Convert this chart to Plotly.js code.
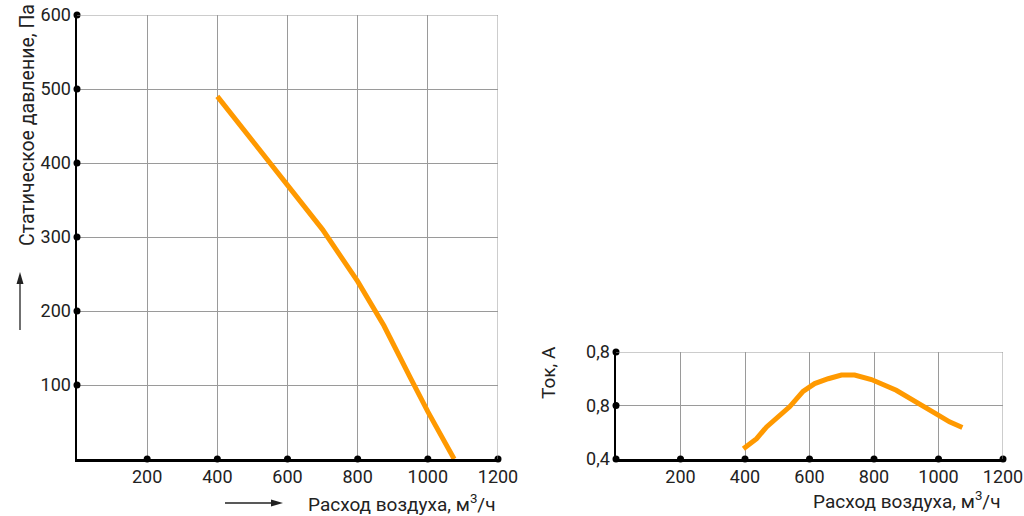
<!DOCTYPE html>
<html><head><meta charset="utf-8">
<script src="https://cdn.plot.ly/plotly-3.0.1.min.js"></script>
<style>html,body{margin:0;padding:0;background:#fff}#c{width:1024px;height:516px}</style>
</head><body><div id="c"></div>
<script>
// Pressure curve
const flowP = [400, 500, 600, 700, 800, 875, 950, 1000, 1075];
const pressure = [490, 430, 368, 310, 240, 180, 110, 64, 0];
// Current curve
const flowI = [395, 436, 467, 539, 580, 616, 658, 699, 740, 792, 869, 931, 998, 1034, 1074];
const current = [0.438, 0.476, 0.52, 0.596, 0.653, 0.682, 0.70, 0.714, 0.714, 0.697, 0.657, 0.615, 0.565, 0.539, 0.518];
// Ticks
const xTicks = [200, 400, 600, 800, 1000, 1200];
const pTicks = [100, 200, 300, 400, 500, 600];
const iTicks = [0.4, 0.6, 0.8];
const iTickText = ["0,4", "0,8", "0,8"];

const W = 1024, H = 516;
const px = v => v / W, py = v => 1 - v / H;
const FONT = "Roboto, 'DejaVu Sans', sans-serif";
const orange = "#FF9900";
const txt = '#222';

const traces = [
  {x: flowP, y: pressure, xaxis: 'x', yaxis: 'y', mode: 'lines', line: {color: orange, width: 5}, hoverinfo: 'skip'},
  {x: xTicks, y: xTicks.map(() => 0), xaxis: 'x', yaxis: 'y', mode: 'markers', marker: {color: '#000', size: 7}, cliponaxis: false},
  {x: pTicks.map(() => 0), y: pTicks, xaxis: 'x', yaxis: 'y', mode: 'markers', marker: {color: '#000', size: 7}, cliponaxis: false},
  {x: flowI, y: current, xaxis: 'x2', yaxis: 'y2', mode: 'lines', line: {color: orange, width: 5}, hoverinfo: 'skip'},
  {x: xTicks, y: xTicks.map(() => 0.4), xaxis: 'x2', yaxis: 'y2', mode: 'markers', marker: {color: '#000', size: 7}, cliponaxis: false},
  {x: iTicks.map(() => 0), y: iTicks, xaxis: 'x2', yaxis: 'y2', mode: 'markers', marker: {color: '#000', size: 7}, cliponaxis: false}
];

const axCommon = {
  showgrid: true, gridcolor: '#9a9a9a', gridwidth: 1,
  showline: true, linecolor: '#000', linewidth: 2.5,
  zeroline: false, ticks: '', tickfont: {family: FONT, size: 18, color: txt},
  fixedrange: true
};

const grey = {color: '#9a9a9a', width: 1};
const arrowLine = {color: txt, width: 1.3};

const layout = {
  width: W, height: H,
  margin: {l: 0, r: 0, t: 0, b: 0},
  paper_bgcolor: '#fff', plot_bgcolor: '#fff',
  showlegend: false,
  font: {family: FONT, color: txt},
  xaxis: Object.assign({}, axCommon, {domain: [px(77), px(498)], range: [0, 1200], tickvals: xTicks, anchor: 'y'}),
  yaxis: Object.assign({}, axCommon, {domain: [py(459), py(15)], range: [0, 600], tickvals: pTicks, anchor: 'x'}),
  xaxis2: Object.assign({}, axCommon, {domain: [px(616), px(1003)], range: [0, 1200], tickvals: xTicks, anchor: 'y2'}),
  yaxis2: Object.assign({}, axCommon, {domain: [py(459), py(352)], range: [0.4, 0.8], tickvals: iTicks, ticktext: iTickText, anchor: 'x2'}),
  shapes: [
    {type: 'line', xref: 'x', yref: 'y', x0: 0, x1: 1200, y0: 600, y1: 600, line: grey},
    {type: 'line', xref: 'x', yref: 'y', x0: 1200, x1: 1200, y0: 0, y1: 600, line: grey},
    {type: 'line', xref: 'x2', yref: 'y2', x0: 0, x1: 1200, y0: 0.8, y1: 0.8, line: grey},
    {type: 'line', xref: 'x2', yref: 'y2', x0: 1200, x1: 1200, y0: 0.4, y1: 0.8, line: grey},
    // vertical arrow
    {type: 'line', xref: 'paper', yref: 'paper', x0: px(20), x1: px(20), y0: py(330), y1: py(282), line: arrowLine},
    {type: 'path', xref: 'paper', yref: 'paper', path: `M ${px(16.5)} ${py(284)} L ${px(20)} ${py(272)} L ${px(23.5)} ${py(284)} Z`, fillcolor: txt, line: {width: 0}},
    // horizontal arrow
    {type: 'line', xref: 'paper', yref: 'paper', x0: px(225), x1: px(273), y0: py(503), y1: py(503), line: arrowLine},
    {type: 'path', xref: 'paper', yref: 'paper', path: `M ${px(271)} ${py(499.5)} L ${px(283)} ${py(503)} L ${px(271)} ${py(506.5)} Z`, fillcolor: txt, line: {width: 0}}
  ],
  annotations: [
    {xref: 'paper', yref: 'paper', x: px(27), y: py(125), text: 'Статическое давление, Па', textangle: -90, showarrow: false, font: {size: 19.5, color: txt}, xanchor: 'center', yanchor: 'middle'},
    {xref: 'paper', yref: 'paper', x: px(498), y: py(503), text: 'Расход воздуха, м<sup>3</sup>/ч', showarrow: false, font: {size: 19, color: txt}, xanchor: 'right', yanchor: 'middle'},
    {xref: 'paper', yref: 'paper', x: px(1003), y: py(500), text: 'Расход воздуха, м<sup>3</sup>/ч', showarrow: false, font: {size: 19, color: txt}, xanchor: 'right', yanchor: 'middle'},
    {xref: 'paper', yref: 'paper', x: px(548), y: py(373), text: 'Ток, А', textangle: -90, showarrow: false, font: {size: 19, color: txt}, xanchor: 'center', yanchor: 'middle'}
  ]
};

Plotly.newPlot('c', traces, layout, {displayModeBar: false, staticPlot: true}).then(gd => {
  gd.querySelectorAll('text').forEach(t => { if (!t.textContent.trim()) t.remove(); });
});
</script></body></html>
